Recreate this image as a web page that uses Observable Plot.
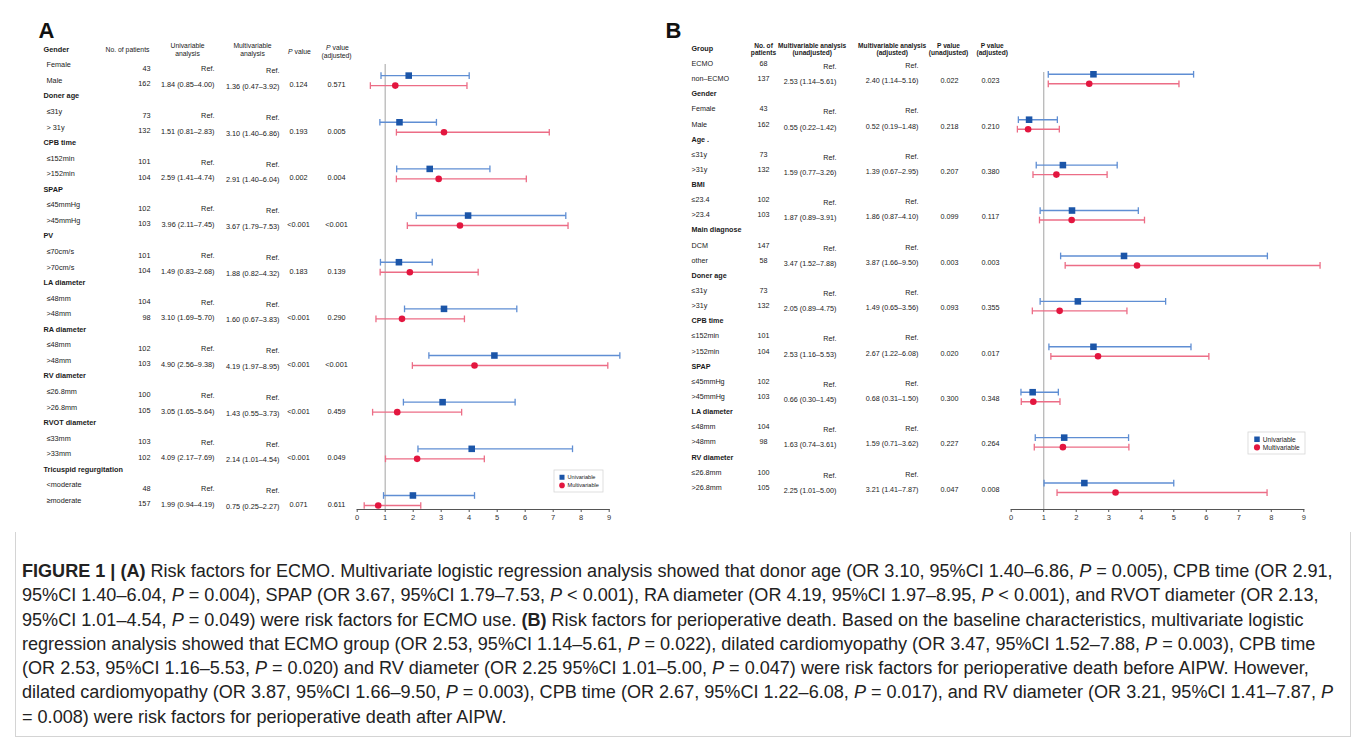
<!DOCTYPE html>
<html><head><meta charset="utf-8">
<script src="https://cdn.jsdelivr.net/npm/d3@7"></script>
<script src="https://cdn.jsdelivr.net/npm/@observablehq/plot@0.6"></script>
<style>
html,body{margin:0;padding:0;background:#fff;}
body{width:1360px;height:742px;overflow:hidden;position:relative;font-family:"Liberation Sans",Arial,sans-serif;}
#pa{position:absolute;left:0;top:0;}
#pb{position:absolute;left:660px;top:0;}
#capbox{position:absolute;left:15px;top:532px;width:1334px;height:204px;border:1px solid #d4d4d4;border-top:none;}
#cap{position:absolute;left:22px;top:559px;font-size:16px;line-height:24.3px;color:#222;white-space:nowrap;}
#cap div{display:block;width:max-content;}
#cap i{font-style:italic}
</style></head><body>
<div id="pa"></div><div id="pb"></div>
<div id="capbox"></div>
<div id="cap">
<div id="cap1"><b>FIGURE 1 | (A)</b> Risk factors for ECMO. Multivariate logistic regression analysis showed that donor age (OR 3.10, 95%CI 1.40–6.86, <i>P</i> = 0.005), CPB time (OR 2.91,</div>
<div>95%CI 1.40–6.04, <i>P</i> = 0.004), SPAP (OR 3.67, 95%CI 1.79–7.53, <i>P</i> &lt; 0.001), RA diameter (OR 4.19, 95%CI 1.97–8.95, <i>P</i> &lt; 0.001), and RVOT diameter (OR 2.13,</div>
<div>95%CI 1.01–4.54, <i>P</i> = 0.049) were risk factors for ECMO use. <b>(B)</b> Risk factors for perioperative death. Based on the baseline characteristics, multivariate logistic</div>
<div>regression analysis showed that ECMO group (OR 2.53, 95%CI 1.14–5.61, <i>P</i> = 0.022), dilated cardiomyopathy (OR 3.47, 95%CI 1.52–7.88, <i>P</i> = 0.003), CPB time</div>
<div>(OR 2.53, 95%CI 1.16–5.53, <i>P</i> = 0.020) and RV diameter (OR 2.25 95%CI 1.01–5.00, <i>P</i> = 0.047) were risk factors for perioperative death before AIPW. However,</div>
<div>dilated cardiomyopathy (OR 3.87, 95%CI 1.66–9.50, <i>P</i> = 0.003), CPB time (OR 2.67, 95%CI 1.22–6.08, <i>P</i> = 0.017), and RV diameter (OR 3.21, 95%CI 1.41–7.87, <i>P</i></div>
<div>= 0.008) were risk factors for perioperative death after AIPW.</div>
</div>
<script>
// ---------- Panel A data ----------
const groupsA = ["Gender","Doner age","CPB time","SPAP","PV","LA diameter","RA diameter","RV diameter","RVOT diameter","Tricuspid regurgitation"];
const refLabelsA = ["Female","≤31y","≤152min","≤45mmHg","≤70cm/s","≤48mm","≤48mm","≤26.8mm","≤33mm","<moderate"];
const cmpLabelsA = ["Male","> 31y",">152min",">45mmHg",">70cm/s",">48mm",">48mm",">26.8mm",">33mm","≥moderate"];
const refNA = [43,73,101,102,101,104,102,100,103,48];
const cmpNA = [162,132,104,103,104,98,103,105,102,157];
const uniORA = [1.84,1.51,2.59,3.96,1.49,3.10,4.90,3.05,4.09,1.99];
const uniLoA = [0.85,0.81,1.41,2.11,0.83,1.69,2.56,1.65,2.17,0.94];
const uniHiA = [4.00,2.83,4.74,7.45,2.68,5.70,9.38,5.64,7.69,4.19];
const mulORA = [1.36,3.10,2.91,3.67,1.88,1.60,4.19,1.43,2.14,0.75];
const mulLoA = [0.47,1.40,1.40,1.79,0.82,0.67,1.97,0.55,1.01,0.25];
const mulHiA = [3.92,6.86,6.04,7.53,4.32,3.83,8.95,3.73,4.54,2.27];
const pA = ["0.124","0.193","0.002","<0.001","0.183","<0.001","<0.001","<0.001","<0.001","0.071"];
const pAdjA = ["0.571","0.005","0.004","<0.001","0.139","0.290","<0.001","0.459","0.049","0.611"];

// ---------- Panel B data ----------
const groupsB = ["Group","Gender","Age .","BMI","Main diagnose","Doner age","CPB time","SPAP","LA diameter","RV diameter"];
const refLabelsB = ["ECMO","Female","≤31y","≤23.4","DCM","≤31y","≤152min","≤45mmHg","≤48mm","≤26.8mm"];
const cmpLabelsB = ["non–ECMO","Male",">31y",">23.4","other",">31y",">152min",">45mmHg",">48mm",">26.8mm"];
const refNB = [68,43,73,102,147,73,101,102,104,100];
const cmpNB = [137,162,132,103,58,132,104,103,98,105];
const unadjORB = [2.53,0.55,1.59,1.87,3.47,2.05,2.53,0.66,1.63,2.25];
const unadjLoB = [1.14,0.22,0.77,0.89,1.52,0.89,1.16,0.30,0.74,1.01];
const unadjHiB = [5.61,1.42,3.26,3.91,7.88,4.75,5.53,1.45,3.61,5.00];
const adjORB = [2.40,0.52,1.39,1.86,3.87,1.49,2.67,0.68,1.59,3.21];
const adjLoB = [1.14,0.19,0.67,0.87,1.66,0.65,1.22,0.31,0.71,1.41];
const adjHiB = [5.16,1.48,2.95,4.10,9.50,3.56,6.08,1.50,3.62,7.87];
const pUnadjB = ["0.022","0.218","0.207","0.099","0.003","0.093","0.020","0.300","0.227","0.047"];
const pAdjB = ["0.023","0.210","0.380","0.117","0.003","0.355","0.017","0.348","0.264","0.008"];

const seriesNames = ["Univariable","Multivariable"];
const xTicks = [0,1,2,3,4,5,6,7,8,9];
const xDomain = [0,9];
const refValue = 1;

// ---------- styles ----------
const UNI_DOT = "#1b55a8", UNI_LINE = "#5f8ed3";
const MUL_DOT = "#e3163f", MUL_LINE = "#ec6d86";
const FONT = "'Liberation Sans', Arial, sans-serif";

const fmt = (o, l, h) => `${o.toFixed(2)} (${l.toFixed(2)}–${h.toFixed(2)})`;

function buildRows(groups, refL, cmpL, refN, cmpN, o1, l1, h1, o2, l2, h2, p1, p2) {
  const rows = [], est = [];
  groups.forEach((g, i) => {
    rows.push({row: 3*i, label: g, type: "group"});
    rows.push({row: 3*i+1, label: refL[i], n: String(refN[i]), a: "Ref.", b: "Ref.", type: "sub"});
    rows.push({row: 3*i+2, label: cmpL[i], n: String(cmpN[i]), a: fmt(o1[i], l1[i], h1[i]), b: fmt(o2[i], l2[i], h2[i]), p1: p1[i], p2: p2[i], type: "sub"});
    est.push({row: 3*i+2, o1: o1[i], l1: l1[i], h1: h1[i], o2: o2[i], l2: l2[i], h2: h2[i]});
  });
  return {rows, est};
}

const A = buildRows(groupsA, refLabelsA, cmpLabelsA, refNA, cmpNA, uniORA, uniLoA, uniHiA, mulORA, mulLoA, mulHiA, pA, pAdjA);
const B = buildRows(groupsB, refLabelsB, cmpLabelsB, refNB, cmpNB, unadjORB, unadjLoB, unadjHiB, adjORB, adjLoB, adjHiB, pUnadjB, pAdjB);

const capSymbol = {draw(ctx, size) { const h = Math.sqrt(size) / 1.8; ctx.moveTo(0, -h); ctx.lineTo(0, h); }};

function forestMarks(est, dyU, dyM) {
  const m = [];
  [["o1","l1","h1",UNI_LINE,UNI_DOT,dyU,"square",3.7],["o2","l2","h2",MUL_LINE,MUL_DOT,dyM,"circle",3.3]].forEach(([o,l,h,lc,dc,dy,sym,r]) => {
    m.push(Plot.link(est, {x1: l, x2: h, y1: "row", y2: "row", stroke: lc, strokeWidth: 1.4, dy}));
    m.push(Plot.dot(est, {x: l, y: "row", symbol: capSymbol, r: 3.4, stroke: lc, strokeWidth: 1.3, fill: "none", dy}));
    m.push(Plot.dot(est, {x: h, y: "row", symbol: capSymbol, r: 3.4, stroke: lc, strokeWidth: 1.3, fill: "none", dy}));
    m.push(Plot.dot(est, {x: o, y: "row", symbol: sym, r, fill: dc, stroke: "none", dy}));
  });
  return m;
}

function legendMark(cfg) {
  return (index, scales, values, dims) => {
    const g = d3.create("svg:g");
    const right = dims.width - dims.marginRight + cfg.dxRight;
    const bottom = dims.height - dims.marginBottom - cfg.up;
    const x0 = right - cfg.w, y0 = bottom - cfg.h;
    g.append("rect").attr("x", x0).attr("y", y0).attr("width", cfg.w).attr("height", cfg.h)
      .attr("fill", "#fff").attr("stroke", "#d6d6d6").attr("stroke-width", 0.8);
    seriesNames.forEach((name, i) => {
      const cy = y0 + cfg.h * (i === 0 ? 0.33 : 0.7);
      const cx = x0 + cfg.sym;
      if (i === 0) g.append("rect").attr("x", cx - cfg.s/2).attr("y", cy - cfg.s/2).attr("width", cfg.s).attr("height", cfg.s).attr("fill", UNI_DOT);
      else g.append("circle").attr("cx", cx).attr("cy", cy).attr("r", cfg.s/2 + 0.3).attr("fill", MUL_DOT);
      g.append("text").attr("x", cx + cfg.s/2 + 3).attr("y", cy).attr("dy", "0.35em")
        .attr("text-anchor", "start").attr("font-size", cfg.fs).attr("fill", "#222").text(name);
    });
    return g.node();
  };
}

function tableMarks(rows, ml, cols, fs) {
  const px = v => v - ml;
  const groups = rows.filter(d => d.type === "group");
  const subs = rows.filter(d => d.type === "sub");
  const withP = subs.filter(d => d.p1);
  const base = {y: "row", frameAnchor: "left", fontSize: fs, fill: "#1a1a1a"};
  return [
    Plot.text(groups, {...base, text: "label", dx: px(cols.group), textAnchor: "start", fontWeight: "bold", dy: cols.dyG}),
    Plot.text(subs, {...base, text: "label", dx: px(cols.sub), textAnchor: "start", dy: cols.dyL}),
    Plot.text(subs, {...base, text: "n", dx: px(cols.n), textAnchor: cols.nAnchor, dy: cols.dyN}),
    Plot.text(subs, {...base, text: "a", dx: px(cols.a), textAnchor: "end", dy: cols.dyA}),
    Plot.text(subs, {...base, text: "b", dx: px(cols.b), textAnchor: "end", dy: cols.dyB}),
    Plot.text(withP, {...base, text: "p1", dx: px(cols.p1), textAnchor: "middle", dy: cols.dyP}),
    Plot.text(withP, {...base, text: "p2", dx: px(cols.p2), textAnchor: "middle", dy: cols.dyP})
  ];
}

function axisMarks() {
  return [
    Plot.frame({anchor: "bottom", stroke: "#555", strokeWidth: 1}),
    Plot.axisX({ticks: xTicks, tickSize: 3, tickPadding: 2, fontSize: 7.5, stroke: "#555", fill: "#333", tickFormat: d => String(d), label: null})
  ];
}

// ---------- Panel A ----------
const mlA = 356.7;
const headerA = [{t: "No. of patients", x: 127}, {t: "Univariable\nanalysis", x: 187}, {t: "Multivariable\nanalysis", x: 252}];
const plotA = Plot.plot({
  width: 660, height: 530,
  marginLeft: mlA, marginRight: 660 - 608.7, marginTop: 49, marginBottom: 21,
  style: {fontFamily: FONT, background: "#fff"},
  x: {domain: xDomain},
  y: {domain: [0, 29.58], reverse: true, axis: null},
  marks: [
    Plot.ruleX([refValue], {stroke: "#b8b8b8", strokeWidth: 1.3, insetTop: 15}),
    ...forestMarks(A.est, -5, 5),
    ...tableMarks(A.rows, mlA, {group: 43, sub: 46, n: 150, nAnchor: "end", a: 214, b: 279, p1: 298, p2: 336, dyG: 0, dyL: 0, dyN: 3.5, dyA: 4, dyB: 6, dyP: 4}, 7.3),
    ...headerA.map(h => Plot.text([h.t], {frameAnchor: "top-left", dx: h.x - mlA, dy: 0, textAnchor: "middle", lineAnchor: "middle", fontSize: 6.8, lineHeight: 1.15, fill: "#1a1a1a"})),
    Plot.text(["P"], {frameAnchor: "top-left", dx: 287.5 - mlA, dy: 0, textAnchor: "start", fontSize: 6.8, fontStyle: "italic", fill: "#1a1a1a"}),
    Plot.text(["value"], {frameAnchor: "top-left", dx: 294 - mlA, dy: 0, textAnchor: "start", fontSize: 6.8, fill: "#1a1a1a"}),
    Plot.text(["P"], {frameAnchor: "top-left", dx: 325.5 - mlA, dy: -4, textAnchor: "start", fontSize: 6.8, fontStyle: "italic", fill: "#1a1a1a"}),
    Plot.text(["value"], {frameAnchor: "top-left", dx: 332 - mlA, dy: -4, textAnchor: "start", fontSize: 6.8, fill: "#1a1a1a"}),
    Plot.text(["(adjusted)"], {frameAnchor: "top-left", dx: 336 - mlA, dy: 4, textAnchor: "middle", fontSize: 6.8, fill: "#1a1a1a"}),
    Plot.text(["A"], {frameAnchor: "top-left", dx: 38 - mlA, dy: -27, textAnchor: "start", lineAnchor: "top", fontSize: 22, fontWeight: "bold", fill: "#111"}),
    legendMark({dxRight: -5.7, up: 17, w: 49, h: 22, sym: 8, s: 5, fs: 5.6}),
    ...axisMarks()
  ]
});
document.getElementById("pa").append(plotA);

// ---------- Panel B ----------
const mlB = 350.7;
const offB = 660;
const headerB = [{t: "No. of\npatients", x: 763}, {t: "Multivariable analysis\n(unadjusted)", x: 811.7}, {t: "Multivariable analysis\n(adjusted)", x: 891.7}, {t: "P value\n(unadjusted)", x: 948}, {t: "P value\n(adjusted)", x: 991.7}];
const plotB = Plot.plot({
  width: 700, height: 530,
  marginLeft: mlB, marginRight: 1360 - 1303.3, marginTop: 48, marginBottom: 21,
  style: {fontFamily: FONT, background: "#fff"},
  x: {domain: xDomain},
  y: {domain: [0, 30.45], reverse: true, axis: null},
  marks: [
    Plot.ruleX([refValue], {stroke: "#b8b8b8", strokeWidth: 1.3, insetTop: 24}),
    ...forestMarks(B.est, -4.5, 5),
    ...tableMarks(B.rows, mlB, {group: 691 - offB, sub: 691 - offB, n: 763 - offB, nAnchor: "middle", a: 836 - offB, b: 918 - offB, p1: 949 - offB, p2: 990 - offB, dyG: 0, dyL: 0, dyN: 0, dyA: 3, dyB: 2, dyP: 2}, 7.2),
    ...headerB.map(h => Plot.text([h.t], {frameAnchor: "top-left", dx: h.x - offB - mlB, dy: 0.5, textAnchor: "middle", lineAnchor: "middle", fontSize: 6.6, lineHeight: 1.1, fontWeight: "bold", fill: "#1a1a1a"})),
    Plot.text(["B"], {frameAnchor: "top-left", dx: 665 - offB - mlB, dy: -26, textAnchor: "start", lineAnchor: "top", fontSize: 22, fontWeight: "bold", fill: "#111"}),
    legendMark({dxRight: 1.7, up: 55, w: 57, h: 22, sym: 9, s: 5.5, fs: 6.6}),
    ...axisMarks()
  ]
});
document.getElementById("pb").append(plotB);

// ---------- caption width fit (line 1 spans the text block width) ----------
const cap = document.getElementById("cap");
const w1 = document.getElementById("cap1").getBoundingClientRect().width;
cap.style.fontSize = (16 * 1311 / w1).toFixed(2) + "px";
</script>
</body></html>
